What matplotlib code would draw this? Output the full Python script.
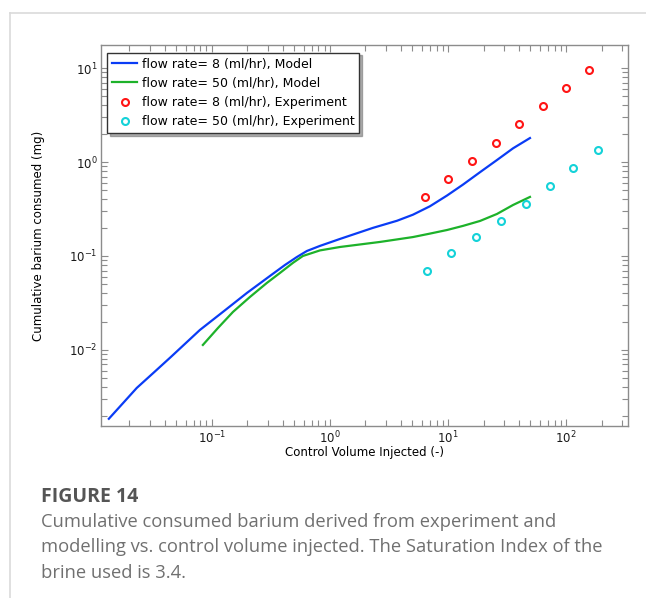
import numpy as np
import matplotlib
matplotlib.use("Agg")
import matplotlib.pyplot as plt
from matplotlib.lines import Line2D
from matplotlib.ticker import LogLocator, NullFormatter

# model curve, flow rate 8 ml/hr
model8_x = [0.0134, 0.0176, 0.0231, 0.0329, 0.0450, 0.0791, 0.129, 0.198,
            0.310, 0.416, 0.525, 0.638, 0.823, 1.22, 2.31, 3.70, 5.05, 7.03,
            9.82, 13.4, 18.7, 26.0, 35.6, 49.5]
model8_y = [1.85e-3, 2.70e-3, 3.94e-3, 5.89e-3, 8.43e-3, 0.0163, 0.0264,
            0.0404, 0.0612, 0.0802, 0.0975, 0.113, 0.128, 0.152, 0.199, 0.237,
            0.275, 0.338, 0.440, 0.575, 0.780, 1.05, 1.40, 1.80]

# model curve, flow rate 50 ml/hr
model50_x = [0.0839, 0.1125, 0.151, 0.210, 0.292, 0.377, 0.485, 0.590, 0.823,
             1.22, 2.65, 5.05, 7.03, 9.82, 13.4, 18.7, 26.0, 35.6, 49.5]
model50_y = [0.0113, 0.0171, 0.0254, 0.0366, 0.0516, 0.0659, 0.0843, 0.100,
             0.1146, 0.1247, 0.141, 0.159, 0.173, 0.189, 0.209, 0.236, 0.280,
             0.349, 0.425]

# experiments
exp8_x = [6.38, 10.0, 16.0, 25.5, 40.0, 63.8, 100, 157]
exp8_y = [0.425, 0.659, 1.03, 1.59, 2.54, 3.94, 6.12, 9.52]
exp50_x = [6.64, 10.6, 17.3, 28.1, 45.8, 73.1, 115, 187]
exp50_y = [0.0692, 0.108, 0.159, 0.236, 0.357, 0.556, 0.863, 1.34]

labels = ["flow rate= 8 (ml/hr), Model",
          "flow rate= 50 (ml/hr), Model",
          "flow rate= 8 (ml/hr), Experiment",
          "flow rate= 50 (ml/hr), Experiment"]

caption_title = "FIGURE 14"
caption_lines = ["Cumulative consumed barium derived from experiment and",
                 "modelling vs. control volume injected. The Saturation Index of the",
                 "brine used is 3.4."]

W, H = 646, 598
fig = plt.figure(figsize=(W / 100, H / 100), dpi=100)
fig.patch.set_facecolor("white")

ax = fig.add_axes([101 / W, 1 - 426 / H, 527 / W, 381 / H])

ax.plot(model8_x, model8_y, color="#0a3cf5", lw=1.6, label=labels[0])
ax.plot(model50_x, model50_y, color="#1db22a", lw=1.6, label=labels[1])
ax.plot(exp8_x, exp8_y, ls="none", marker="o", ms=5, mfc="none",
        mec="#ff1414", mew=1.5, label=labels[2])
ax.plot(exp50_x, exp50_y, ls="none", marker="o", ms=5, mfc="none",
        mec="#14d2d8", mew=1.5, label=labels[3])

ax.set_xscale("log")
ax.set_yscale("log")
ax.set_xlim(0.0115, 335)
ax.set_ylim(1.55e-3, 17.6)

ax.xaxis.set_major_locator(LogLocator(base=10, numticks=20))
ax.xaxis.set_minor_locator(LogLocator(base=10, subs=np.arange(2, 10), numticks=20))
ax.yaxis.set_major_locator(LogLocator(base=10, numticks=20))
ax.yaxis.set_minor_locator(LogLocator(base=10, subs=np.arange(2, 10), numticks=20))
ax.xaxis.set_minor_formatter(NullFormatter())
ax.yaxis.set_minor_formatter(NullFormatter())

for s in ax.spines.values():
    s.set_color("#8c8c8c")
    s.set_linewidth(1.0)
ax.tick_params(which="both", direction="in", top=True, right=True,
               color="#8c8c8c", labelsize=8.5, labelcolor="#1a1a1a", pad=2.5)
ax.tick_params(which="major", length=5, width=0.8)
ax.tick_params(which="minor", length=4, width=0.8)

ax.set_xlabel("Control Volume Injected (-)", fontsize=8.5, labelpad=0)
ax.set_ylabel("Cumulative barium consumed (mg)", fontsize=8.5, labelpad=17)

leg = ax.legend(loc="upper left", bbox_to_anchor=(0.012, 0.98), fontsize=9,
                frameon=True, fancybox=False,
                shadow={"color": "#777777", "alpha": 0.6},
                handlelength=2.0, handletextpad=0.35, labelspacing=0.5,
                borderpad=0.4, borderaxespad=0)
leg.get_frame().set_edgecolor("#333333")
leg.get_frame().set_linewidth(1.0)

# page decoration around the figure
fig.add_artist(Line2D([10 / W, 1], [1 - 13 / H, 1 - 13 / H], color="#dadada", lw=1.2))
fig.add_artist(Line2D([10 / W, 10 / W], [0, 1 - 13 / H], color="#dadada", lw=1.2))

fig.text(41 / W, 1 - 497 / H, caption_title, fontsize=14, fontweight="bold",
         color="#555555", family="Open Sans", va="center")
for i, line in enumerate(caption_lines):
    fig.text(41 / W, 1 - (522 + 25.5 * i) / H, line, fontsize=13.2,
             color="#707070", family="Open Sans", va="center")

fig.savefig("out.png", dpi=100)
